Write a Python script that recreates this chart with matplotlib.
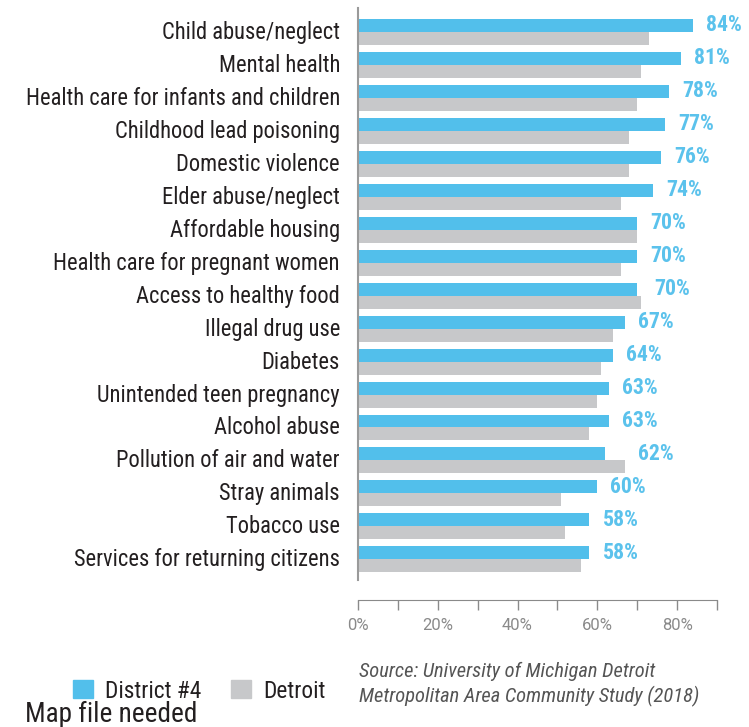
import numpy as np
import matplotlib.pyplot as plt
from matplotlib.patches import Patch
from matplotlib.transforms import ScaledTranslation
from matplotlib import font_manager

# survey items, top to bottom
issues = ["Child abuse/neglect", "Mental health", "Health care for infants and children",
          "Childhood lead poisoning", "Domestic violence", "Elder abuse/neglect",
          "Affordable housing", "Health care for pregnant women", "Access to healthy food",
          "Illegal drug use", "Diabetes", "Unintended teen pregnancy", "Alcohol abuse",
          "Pollution of air and water", "Stray animals", "Tobacco use",
          "Services for returning citizens"]
district4 = [84, 81, 78, 77, 76, 74, 70, 70, 70, 67, 64, 63, 63, 62, 60, 58, 58]
detroit = [73, 71, 70, 68, 68, 66, 70, 66, 71, 64, 61, 60, 58, 67, 51, 52, 56]
xticks = [0, 20, 40, 60, 80]

BLUE = "#52BFEB"
GRAY = "#C7C8CA"

# use the condensed cut if it is installed
installed = {f.name for f in font_manager.fontManager.ttflist}
condensed = "Roboto Condensed" in installed
plt.rcParams['font.family'] = ['Roboto Condensed' if condensed else 'Roboto', 'DejaVu Sans']
scale = 1.0 if not condensed else 1.12

W, H = 749, 727
fig = plt.figure(figsize=(W / 100, H / 100), dpi=100)
ax = fig.add_axes([358 / W, 1 - 580 / H, (717 - 358) / W, (580 - 8) / H])

y = np.arange(len(issues))
h = 0.394
ax.barh(y - h / 2, district4, height=h, color=BLUE, label="District #4")
ax.barh(y + h / 2, detroit, height=h, color=GRAY, label="Detroit")

for i, (a, b) in enumerate(zip(district4, detroit)):
    ax.text(max(a, b) + 3.3, i - h / 2, f"{a}%", color="#5BC2EC", fontsize=14 * scale,
            fontweight="bold", va="center", ha="left")

ax.set_xlim(0, 90)
ax.set_ylim(len(issues) - 1 + 0.627, -0.727)
ax.set_yticks(y)
ax.set_yticklabels(issues, fontsize=14.5 * scale, color="#231F20")
ax.tick_params(axis="y", length=0, pad=13)
for lbl in ax.get_yticklabels():
    lbl.set_transform(lbl.get_transform() + ScaledTranslation(0, 2 / 100, fig.dpi_scale_trans))

# percent axis sits below the bars, regular Roboto
ax.set_xticks(np.arange(0, 91, 10), minor=True)
ax.set_xticks(xticks)
ax.set_xticklabels([f"{t}%" for t in xticks])
ax.tick_params(axis="x", which="both", direction="out", length=7, width=1,
               color="#8A8A8A", pad=6, labelsize=12, labelcolor="#8A8A8A",
               labelfontfamily="Roboto")

for s in ["top", "right"]:
    ax.spines[s].set_visible(False)
ax.spines["left"].set_color("#9A9A9A")
ax.spines["left"].set_linewidth(1.5)
ax.spines["bottom"].set_color("#8A8A8A")
ax.spines["bottom"].set_position(("outward", 14.5))

handles = [Patch(color=BLUE, label="District #4"), Patch(color=GRAY, label="Detroit")]
fig.legend(handles=handles, loc="center left", bbox_to_anchor=(52 / W, 1 - 691 / H),
           ncol=2, frameon=False, fontsize=15 * scale, handlelength=0.86, handleheight=0.82,
           handletextpad=0.53, columnspacing=1.25, labelcolor="#231F20")

fig.text(359 / W, 1 - 671 / H, "Source: University of Michigan Detroit",
         fontsize=13.2 * scale, style="italic", color="#555555", va="center")
fig.text(359 / W, 1 - 696 / H, "Metropolitan Area Community Study (2018)",
         fontsize=13.2 * scale, style="italic", color="#555555", va="center")
fig.text(25 / W, 1 - 722 / H, "Map file needed", fontsize=17.5 * scale, color="#231F20",
         va="baseline")

fig.savefig("out.png", dpi=100)
